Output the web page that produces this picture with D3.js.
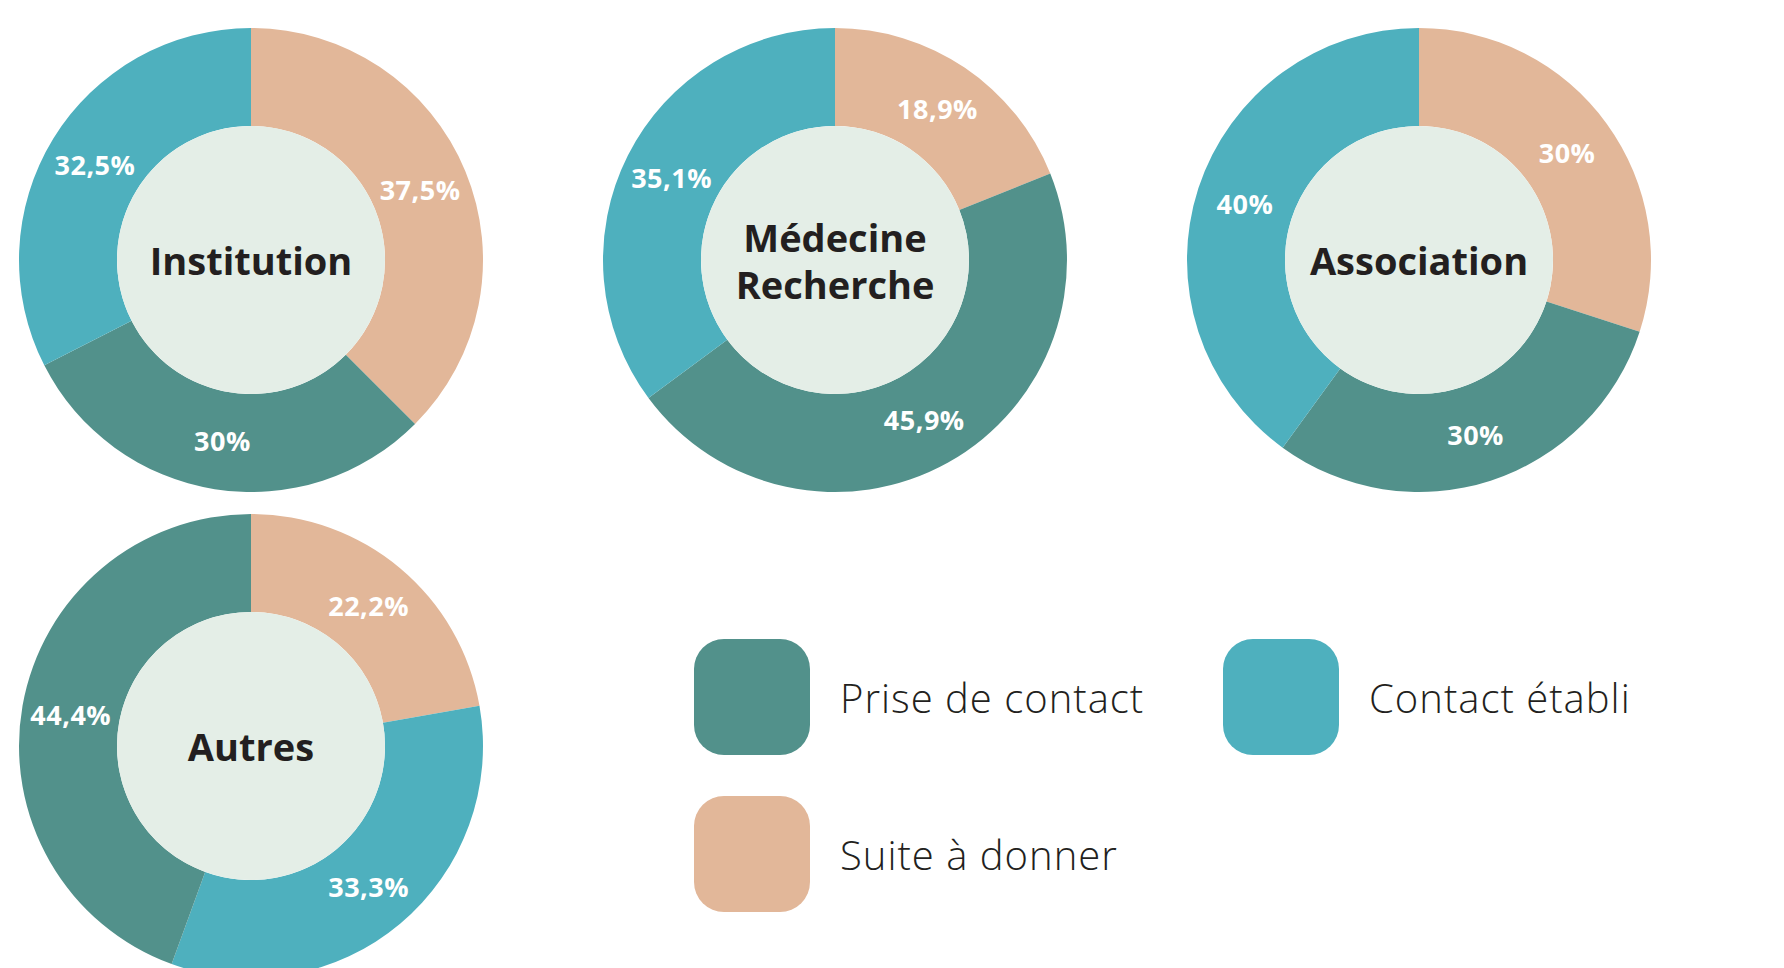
<!DOCTYPE html>
<html>
<head>
<meta charset="utf-8">
<script src="https://cdn.jsdelivr.net/npm/d3@7"></script>
<style>
  html, body { margin: 0; padding: 0; background: #fff; }
  #chart { width: 1784px; height: 968px; overflow: hidden; }
</style>
</head>
<body>
<div id="chart"></div>
<script>
// Categories (one donut each) and series
const categories = ["Institution", "Médecine Recherche", "Association", "Autres"];
const seriesNames = ["Prise de contact", "Contact établi", "Suite à donner"];

// Values (%) per series, one per category
const priseDeContact = [30, 45.9, 30, 44.4];
const contactEtabli = [32.5, 35.1, 40, 33.3];
const suiteADonner = [37.5, 18.9, 30, 22.2];

// Order of slices clockwise from 12 o'clock (index into seriesNames)
const sliceOrders = [[2, 0, 1], [2, 0, 1], [2, 0, 1], [2, 1, 0]];

const seriesValues = [priseDeContact, contactEtabli, suiteADonner];
const colors = ["#52918B", "#4EB0BE", "#E2B799"];

const width = 1784, height = 968;
const outerR = 232, innerR = 134;

const svg = d3.select("#chart").append("svg")
  .attr("width", width)
  .attr("height", height);

const pie = d3.pie().sort(null).value(d => d.value);
const arc = d3.arc().innerRadius(innerR).outerRadius(outerR);
const labelArc = d3.arc().innerRadius((innerR + outerR) / 2).outerRadius((innerR + outerR) / 2);

// grid: 3 donuts on the first row, 1 on the second
const colX = i => 251 + (i % 3) * 584;
const rowY = i => 260 + Math.floor(i / 3) * 486;

const fmt = v => String(v).replace(".", ",") + "%";

categories.forEach((cat, i) => {
  const slices = sliceOrders[i].map(s => ({ series: s, value: seriesValues[s][i] }));
  const g = svg.append("g")
    .attr("transform", `translate(${colX(i)},${rowY(i)})`);

  g.selectAll("path")
    .data(pie(slices))
    .join("path")
    .attr("d", arc)
    .attr("fill", d => colors[d.data.series]);

  // inner disc
  g.append("circle")
    .attr("r", innerR)
    .attr("fill", "#E4EEE7");

  // percentage labels
  g.selectAll("text.pct")
    .data(pie(slices))
    .join("text")
    .attr("class", "pct")
    .attr("transform", d => `translate(${labelArc.centroid(d)})`)
    .attr("text-anchor", "middle")
    .attr("dominant-baseline", "central")
    .attr("fill", "#fff")
    .style("font-family", "'Open Sans', sans-serif")
    .style("font-weight", "700")
    .style("font-size", "27px")
    .style("letter-spacing", "0.5px")
    .text(d => fmt(d.data.value));

  // category name in the middle
  const words = cat === "Médecine Recherche" ? ["Médecine", "Recherche"] : [cat];
  const lineH = 47;
  const t = g.append("text")
    .attr("text-anchor", "middle")
    .attr("fill", "#231F20")
    .style("font-family", "'Open Sans', sans-serif")
    .style("font-weight", "700")
    .style("font-size", "38px");
  words.forEach((w, k) => {
    t.append("tspan")
      .attr("x", 0)
      .attr("y", (k - (words.length - 1) / 2) * lineH)
      .attr("dominant-baseline", "central")
      .text(w);
  });
});

// Legend
const legendPos = [[0, 0], [1, 0], [0, 1]];
const legend = svg.append("g")
  .attr("transform", "translate(694,639)");

seriesNames.forEach((name, i) => {
  const [c, r] = legendPos[i];
  const item = legend.append("g")
    .attr("transform", `translate(${c * 529},${r * 157})`);
  item.append("rect")
    .attr("width", 116)
    .attr("height", 116)
    .attr("rx", 30)
    .attr("fill", colors[i]);
  item.append("text")
    .attr("x", 146)
    .attr("y", 74)
    .attr("fill", "#231F20")
    .style("font-family", "'Open Sans', sans-serif")
    .style("font-weight", "300")
    .style("font-size", "40px")
    .style("letter-spacing", "1px")
    .text(name);
});
</script>
</body>
</html>
